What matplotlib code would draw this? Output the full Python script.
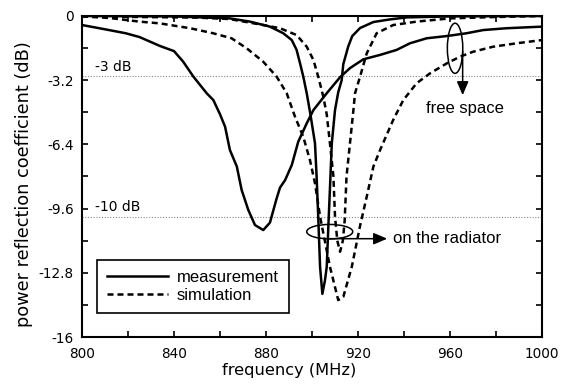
import numpy as np
import matplotlib
matplotlib.use("Agg")
import matplotlib.pyplot as plt
from matplotlib.patches import Ellipse

plt.rcParams['font.family'] = 'DejaVu Sans'
plt.rcParams['axes.unicode_minus'] = False

# measured, free space (broad dip near 879 MHz)
f_meas_free = [800, 808, 819, 825, 834, 840, 844, 848.4, 854.2, 857.1, 860, 862.2,
               864.3, 867.3, 869.4, 872.3, 875.2, 878.8, 881.7, 884.6, 886.1, 888.3,
               891.2, 892.6, 894, 897.7, 900.6, 906.4, 912.2, 916.5, 922.3, 929.6,
               936.8, 942.6, 949.9, 958.6, 967.2, 974.5, 984.6, 1000]
s_meas_free = [-0.45, -0.62, -0.86, -1.05, -1.5, -1.75, -2.28, -3.02, -3.85, -4.19, -4.9, -5.52,
               -6.68, -7.5, -8.67, -9.67, -10.42, -10.67, -10.3, -9.1, -8.55, -8.18,
               -7.43, -6.85, -6.27, -5.35, -4.69, -3.85, -3.05, -2.6, -2.16, -1.94,
               -1.69, -1.36, -1.11, -1.0, -0.86, -0.7, -0.61, -0.53]

# simulated, free space
f_sim_free = [800, 812, 825, 834, 847, 857, 865, 871.6, 878.8, 884.6, 889, 892.6,
              896.2, 899.1, 901.3, 903.5, 907.8, 911.4, 913.6, 917.3, 921, 923.8,
              926.7, 929.6, 935.3, 939.7, 945.5, 951.3, 958.6, 964.3, 970.1, 978.8,
              989, 1000]
s_sim_free = [-0.02, -0.1, -0.28, -0.37, -0.61, -0.86, -1.11, -1.61, -2.28, -3.02, -3.85, -5.02,
              -6.02, -7.18, -8.34, -10.0, -12.5, -14.16, -14.0, -12.5, -10.4, -9.0,
              -7.5, -6.68, -5.18, -4.19, -3.35, -2.86, -2.36, -2.03, -1.78, -1.53,
              -1.36, -1.2]

# measured, on the radiator
f_meas_rad = [800, 840, 864.3, 873, 881.7, 887.5, 891.2, 893.3, 894.8, 896.2, 897.7, 899.3,
              901.3, 902, 902.7, 903.5, 904.5, 905.6, 906.4, 907.1, 907.8, 908.6, 910,
              911.4, 912.9, 913.6, 915.8, 917.5, 920.9, 926.7, 933.9, 941.2, 960, 1000]
s_meas_rad = [0.0, -0.02, -0.12, -0.28, -0.53, -0.86, -1.2, -1.69, -2.36, -3.02, -3.85, -4.9,
              -6.35, -8.0, -10.0, -12.5, -13.85, -13.2, -12.5, -10.5, -8.6, -6.35, -4.69,
              -3.8, -3.2, -2.4, -1.5, -1.0, -0.6, -0.3, -0.17, -0.07, -0.02, 0.0]

# simulated, on the radiator
f_sim_rad = [800, 850, 864, 878.8, 886.1, 893.3, 897.7, 900.6, 902.7, 904.9, 906.4, 907.8,
             909.3, 910, 911, 912.2, 913.4, 914.2, 915, 916.5, 918, 918.7, 920.9, 923.8,
             928.1, 935.3, 945.5, 960, 980, 1000]
s_sim_rad = [-0.02, -0.08, -0.15, -0.45, -0.61, -0.95, -1.53, -2.19, -3.02, -4.02, -4.9, -6.35,
             -8.0, -10.0, -11.2, -11.75, -11.2, -10.2, -8.0, -6.35, -4.69, -3.85, -3.02, -1.86,
             -0.86, -0.45, -0.28, -0.12, -0.05, 0.0]

x_ticks = [800, 840, 880, 920, 960, 1000]
y_ticks = [0, -3.2, -6.4, -9.6, -12.8, -16]
y_ticklabels = ["0", "-3.2", "-6.4", "-9.6", "-12.8", "-16"]

fig = plt.figure(figsize=(5.63, 3.92), dpi=100)
ax = fig.add_axes([0.1457, 0.1403, 0.817, 0.8189])

lw = 1.8
dash = (2.4, 1.6)
l_meas, = ax.plot(f_meas_rad, s_meas_rad, color='black', lw=lw, label='measurement')
ax.plot(f_meas_free, s_meas_free, color='black', lw=lw)
l_sim, = ax.plot(f_sim_rad, s_sim_rad, color='black', lw=lw, dashes=dash, label='simulation')
ax.plot(f_sim_free, s_sim_free, color='black', lw=lw, dashes=dash)

# -3 dB and -10 dB guide lines
for lev, txt in [(-3, "-3 dB"), (-10, "-10 dB")]:
    ax.axhline(lev, color='#888888', lw=0.8, ls=(0, (1, 1.5)), zorder=0)
    ax.text(805.5, lev + 0.12, txt, fontsize=10, ha='left', va='bottom')

arrow_style = dict(arrowstyle='-|>,head_length=0.75,head_width=0.32', color='black',
                   lw=1.1, shrinkA=0, shrinkB=0, mutation_scale=11)

# annotation: free space
ax.add_patch(Ellipse((962.2, -1.61), 6.7, 2.5, fill=False, ec='black', lw=1.1))
ax.annotate('', xy=(965.5, -3.95), xytext=(965.5, -1.75), arrowprops=arrow_style)
ax.text(966.5, -4.6, "free space", fontsize=12, family='Liberation Sans',
        ha='center', va='center')

# annotation: on the radiator
ax.add_patch(Ellipse((907.7, -10.75), 20, 0.72, fill=False, ec='black', lw=1.1))
ax.annotate('', xy=(932.7, -11.1), xytext=(907.0, -11.1), arrowprops=arrow_style)
ax.text(935.4, -11.1, "on the radiator", fontsize=12, family='Liberation Sans',
        ha='left', va='center')

ax.set_xlim(800, 1000)
ax.set_ylim(-16, 0)
ax.set_xticks(x_ticks)
ax.set_xticks(np.arange(820, 1000, 40), minor=True)
ax.set_yticks(y_ticks)
ax.set_yticklabels(y_ticklabels)
ax.set_yticks(np.arange(-1.6, -16, -3.2), minor=True)
ax.tick_params(which='both', direction='in', top=True, right=True, length=4.5, width=1.2,
               labelsize=9.8, pad=6)
ax.tick_params(axis='x', pad=7.5)
for sp in ax.spines.values():
    sp.set_linewidth(1.5)

ax.set_xlabel("frequency (MHz)", fontsize=11.7)
ax.set_ylabel("power reflection coefficient (dB)", fontsize=12.8)
ax.xaxis.set_label_coords(0.451, -0.08)
ax.yaxis.set_label_coords(-0.107, 0.477)

leg = ax.legend(handles=[l_meas, l_sim], loc='lower left', bbox_to_anchor=(0.032, 0.074),
                borderaxespad=0, fancybox=False, framealpha=1, edgecolor='black',
                prop={'family': 'Liberation Sans', 'size': 12}, handlelength=3.7,
                handletextpad=0.5, labelspacing=0.2, borderpad=0.6)
leg.get_frame().set_linewidth(1.2)

fig.savefig("out.png", dpi=100)
